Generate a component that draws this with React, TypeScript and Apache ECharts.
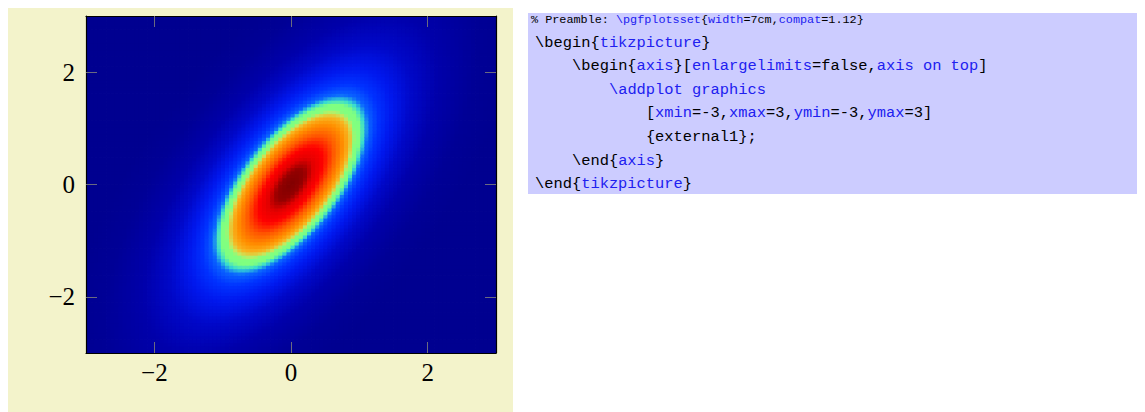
import React, { useEffect, useRef } from "react";
import * as echarts from "echarts";

// ---- data ----
const xRange = [-3, 3];
const yRange = [-3, 3];
const gridCells = [100, 100]; // image resolution (columns, rows)
const peakCenter = [0, 0];
const halfMaxSemiAxes = [0.98, 1.38]; // x / y extent of the light-green contour
const correlation = [0.65];
const xTicks = [-2, 0, 2];
const yTicks = [-2, 0, 2];

// colour ramp keyed by normalised distance from the peak (1 = green ring)
const rampPositions = [0, 0.2, 0.34, 0.48, 0.64, 0.78, 0.87, 0.925, 0.96, 1.03, 1.09, 1.16, 1.3, 1.5, 1.8, 2.2, 2.8, 3.4];
const rampColors = [
  "#800000", "#940000", "#e40000", "#ff0000", "#ff5a00", "#ff9000", "#f8b420", "#c8e860",
  "#80ff80", "#80ff80", "#38dcd0", "#0a64ff", "#0032ff", "#0018ee", "#0008c8", "#0000aa", "#000096", "#000090",
];

const codeLines = [
  { indent: 0, small: true, text: "% Preamble: {b|\\pgfplotsset}{{b|width}=7cm,{b|compat}=1.12}" },
  { indent: 0, text: "\\begin{{b|tikzpicture}}" },
  { indent: 4, text: "\\begin{{b|axis}}[{b|enlargelimits}=false,{b|axis on top}]" },
  { indent: 8, text: "{b|\\addplot graphics}" },
  { indent: 12, text: "[{b|xmin}=-3,{b|xmax}=3,{b|ymin}=-3,{b|ymax}=3]" },
  { indent: 12, text: "{external1};" },
  { indent: 4, text: "\\end{{b|axis}}" },
  { indent: 0, text: "\\end{{b|tikzpicture}}" },
];

function hexToRgb(h: string) {
  return [parseInt(h.slice(1, 3), 16), parseInt(h.slice(3, 5), 16), parseInt(h.slice(5, 7), 16)];
}
function rampAt(d: number) {
  if (d <= rampPositions[0]) return rampColors[0];
  for (let k = 1; k < rampPositions.length; k++) {
    if (d <= rampPositions[k]) {
      const t = (d - rampPositions[k - 1]) / (rampPositions[k] - rampPositions[k - 1]);
      const a = hexToRgb(rampColors[k - 1]);
      const b = hexToRgb(rampColors[k]);
      const c = a.map((v, i) => Math.round(v + (b[i] - v) * t));
      return `rgb(${c[0]},${c[1]},${c[2]})`;
    }
  }
  return rampColors[rampColors.length - 1];
}

export default function App() {
  const ref = useRef<HTMLDivElement>(null);
  useEffect(() => {
    if (!ref.current) return;
    const chart = echarts.init(ref.current, null, { renderer: "svg" });

    const [nx, ny] = gridCells;
    const dx = (xRange[1] - xRange[0]) / nx;
    const dy = (yRange[1] - yRange[0]) / ny;
    const sx = halfMaxSemiAxes[0];
    const sy = halfMaxSemiAxes[1];
    const r = correlation[0];
    const data: number[][] = [];
    for (let i = 0; i < nx; i++) {
      const xc = xRange[0] + (i + 0.5) * dx;
      const x = (xc - peakCenter[0]) / sx;
      for (let j = 0; j < ny; j++) {
        const yc = yRange[0] + (j + 0.5) * dy;
        const y = (yc - peakCenter[1]) / sy;
        const q = (x * x - 2 * r * x * y + y * y) / (1 - r * r);
        data.push([xc, yc, Math.sqrt(q)]);
      }
    }
    const maxD = rampPositions[rampPositions.length - 1];
    const sampled: string[] = [];
    const N = 300;
    for (let k = 0; k <= N; k++) sampled.push(rampAt((k / N) * maxD));

    const tickColor = "#6a6a80";
    const labelStyle = {
      fontSize: 25,
      fontFamily: "'Liberation Serif', 'DejaVu Serif', serif",
      color: "#000",
      formatter: (v: number) => (v < 0 ? "\u2212" + Math.abs(v) : String(v)),
    };
    const valAxisBase = (min: number, max: number, ticks: number[]) => ({
      type: "value" as const,
      min,
      max,
      z: 10,
      splitLine: { show: false },
      axisLine: { show: true, onZero: false, lineStyle: { color: "#000", width: 1.2 } },
      axisTick: { show: true, inside: true, length: 11, customValues: ticks, lineStyle: { color: tickColor, width: 1 } },
    });

    const blue = "#2020f0";
    const graphics: any[] = [
      { type: "rect", z: -100, shape: { x: 8, y: 8, width: 505, height: 404 }, style: { fill: "#f3f3cb" } },
      { type: "rect", z: -100, shape: { x: 528, y: 13, width: 609, height: 181 }, style: { fill: "#ccccff" } },
    ];
    const baseX = 535;
    const cw = 9.24;
    codeLines.forEach((ln, idx) => {
      const fs = ln.small ? 11.8 : 15.4;
      const y = ln.small ? 20 : 42.5 + (idx - 1) * 23.6;
      const fam = "'Liberation Mono', 'DejaVu Sans Mono', monospace";
      graphics.push({
        type: "text",
        z: 10,
        style: {
          text: ln.text,
          x: (ln.small ? 531 : baseX) + ln.indent * cw,
          y,
          fill: "#000",
          fontSize: fs,
          fontFamily: fam,
          align: "left",
          verticalAlign: "middle",
          rich: { b: { fill: blue, color: blue, fontSize: fs, fontFamily: fam } },
        },
      });
    });

    chart.setOption({
      animation: false,
      grid: { left: 86, top: 16, width: 410, height: 337 },
      xAxis: [
        {
          ...valAxisBase(xRange[0], xRange[1], xTicks),
          position: "bottom",
          axisLabel: { ...labelStyle, customValues: xTicks, margin: 7 },
        },
        { ...valAxisBase(xRange[0], xRange[1], xTicks), position: "top", axisLabel: { show: false } },
      ],
      yAxis: [
        {
          ...valAxisBase(yRange[0], yRange[1], yTicks),
          position: "left",
          axisLabel: { ...labelStyle, customValues: yTicks, margin: 11 },
        },
        { ...valAxisBase(yRange[0], yRange[1], yTicks), position: "right", axisLabel: { show: false } },
      ],
      visualMap: {
        type: "continuous",
        show: false,
        min: 0,
        max: maxD,
        dimension: 2,
        seriesIndex: 0,
        inRange: { color: sampled },
      },
      series: [
        {
          type: "custom",
          xAxisIndex: 0,
          yAxisIndex: 0,
          data,
          clip: true,
          progressive: 0,
          encode: { x: 0, y: 1 },
          renderItem: (params: any, api: any) => {
            const p = api.coord([api.value(0), api.value(1)]);
            const s = api.size([dx, dy]);
            return {
              type: "rect",
              shape: { x: p[0] - s[0] / 2 - 0.4, y: p[1] - s[1] / 2 - 0.4, width: s[0] + 0.8, height: s[1] + 0.8 },
              style: { fill: api.visual("color") },
            };
          },
        },
      ],
      graphic: graphics,
    });
    return () => chart.dispose();
  }, []);
  return <div ref={ref} style={{ position: "absolute", left: 0, top: 0, width: 1145, height: 412 }} />;
}
